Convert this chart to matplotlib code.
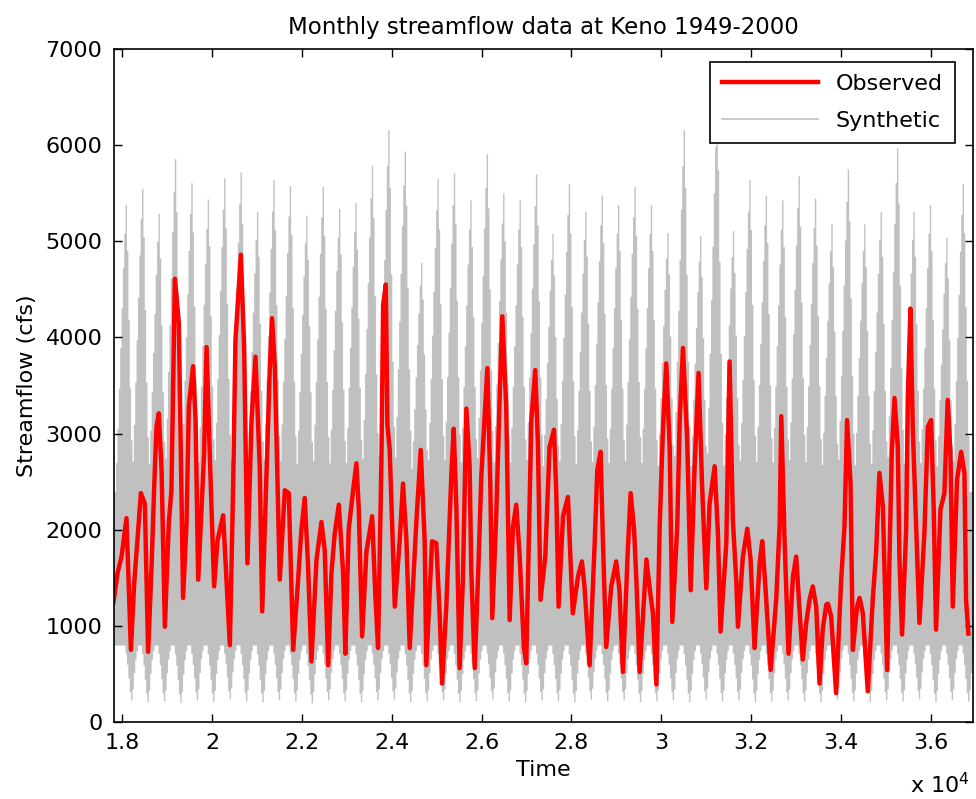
import numpy as np
import matplotlib
matplotlib.use("Agg")
import matplotlib.pyplot as plt
from matplotlib.ticker import FuncFormatter, MultipleLocator

plt.rcParams['font.family'] = ['DejaVu Sans']

# observed monthly flow, turning points (decimal year, cfs)
obs_year = [
    1948.75, 1949.00, 1949.24, 1949.54, 1949.75, 1949.81, 1950.01, 1950.42, 1950.66, 1950.86,
    1951.07, 1951.23, 1951.37, 1951.51, 1951.68, 1951.88, 1952.12, 1952.28, 1952.49, 1952.73,
    1952.99, 1953.20, 1953.34, 1953.60, 1953.75, 1953.91, 1954.27, 1954.42, 1954.62, 1954.88,
    1955.09, 1955.43, 1955.84, 1956.04, 1956.18, 1956.51, 1956.71, 1956.91, 1957.16, 1957.40,
    1957.66, 1957.81, 1958.27, 1958.41, 1958.58, 1958.88, 1959.19, 1959.43, 1959.70, 1960.00,
    1960.20, 1960.40, 1960.60, 1960.81, 1961.12, 1961.42, 1961.62, 1961.83, 1962.03, 1962.23,
    1962.48, 1962.74, 1962.88, 1963.08, 1963.35, 1963.55, 1963.69, 1963.90, 1964.16, 1964.51,
    1964.71, 1964.87, 1965.07, 1965.18, 1965.34, 1965.44, 1965.58, 1965.89, 1966.19, 1966.39,
    1966.60, 1966.80, 1967.21, 1967.47, 1967.71, 1967.81, 1968.16, 1968.42, 1968.63, 1968.77,
    1969.03, 1969.34, 1969.48, 1969.64, 1969.84, 1970.04, 1970.25, 1970.45, 1970.55, 1970.76,
    1971.00, 1971.16, 1971.53, 1971.71, 1971.83, 1972.07, 1972.28, 1972.44, 1972.68, 1972.83,
    1972.89, 1973.09, 1973.29, 1973.50, 1973.76, 1973.90, 1974.04, 1974.21, 1974.45, 1974.61,
    1974.77, 1975.06, 1975.32, 1975.59, 1975.73, 1975.87, 1976.14, 1976.44, 1976.64, 1976.74,
    1977.05, 1977.29, 1977.45, 1977.76, 1978.06, 1978.23, 1978.43, 1978.57, 1978.77, 1979.08,
    1979.38, 1979.58, 1979.79, 1980.09, 1980.26, 1980.47, 1980.61, 1980.81, 1981.01, 1981.22,
    1981.42, 1981.62, 1981.83, 1982.03, 1982.23, 1982.43, 1982.64, 1982.80, 1983.10, 1983.25,
    1983.45, 1983.71, 1983.92, 1984.16, 1984.40, 1984.61, 1984.87, 1985.07, 1985.38, 1985.58,
    1985.74, 1986.09, 1986.29, 1986.49, 1986.70, 1986.80, 1987.10, 1987.37, 1987.57, 1987.81,
    1988.12, 1988.28, 1988.46, 1988.79, 1989.13, 1989.34, 1989.44, 1989.64, 1989.88, 1990.15,
    1990.35, 1990.55, 1990.75, 1990.96, 1991.16, 1991.36, 1991.57, 1991.77, 1991.97, 1992.18,
    1992.28, 1992.48, 1992.78, 1993.09, 1993.29, 1993.45, 1993.66, 1993.80, 1994.06, 1994.21,
    1994.41, 1994.71, 1995.02, 1995.22, 1995.42, 1995.63, 1995.89, 1996.17, 1996.34, 1996.54,
    1996.64, 1996.80, 1997.05, 1997.15, 1997.31, 1997.45, 1997.66, 1997.86, 1998.16, 1998.37,
    1998.57, 1998.73, 1998.87, 1999.14, 1999.38, 1999.58, 1999.75, 1999.89, 2000.15, 2000.40,
    2000.60, 2000.70, 2000.84,
]
obs_flow = [
    1250, 1550, 1720, 2120, 1080, 750, 1440, 2380, 2270, 730,
    1620, 2450, 3070, 3210, 2620, 990, 2070, 2410, 4610, 4150,
    1290, 2070, 3280, 3700, 3140, 1480, 2790, 3900, 2760, 1410,
    1890, 2150, 800, 2450, 3970, 4860, 3900, 1650, 3140, 3800,
    2660, 1150, 3660, 4200, 3700, 1480, 2410, 2380, 750, 1480,
    2000, 2330, 1650, 630, 1690, 2080, 1790, 590, 1550, 1960,
    2260, 1550, 710, 2000, 2410, 2690, 2240, 890, 1770, 2140,
    1300, 770, 2660, 4340, 4550, 3090, 2830, 1200, 1890, 2480,
    1890, 770, 2100, 2830, 1890, 590, 1880, 1860, 1100, 400,
    1200, 2590, 3050, 2240, 560, 1480, 3260, 2660, 1580, 560,
    1690, 2550, 3680, 2480, 1080, 2140, 3380, 4220, 3280, 1690,
    1060, 2030, 2260, 1720, 770, 610, 1750, 3140, 3660, 2900,
    1270, 1720, 2860, 3040, 2380, 1200, 2140, 2340, 1510, 1130,
    1510, 1670, 1410, 590, 1820, 2620, 2810, 1890, 780, 1410,
    1670, 1370, 520, 1790, 2380, 2000, 1480, 520, 1100, 1690,
    1390, 1130, 390, 2030, 3050, 3730, 2850, 1040, 2030, 3140,
    3890, 2920, 1370, 2660, 3630, 2480, 1390, 2270, 2660, 1960,
    940, 1860, 3750, 2100, 1460, 990, 1720, 2010, 1690, 770,
    1650, 1880, 1440, 540, 1270, 2050, 3180, 1890, 710, 1510,
    1720, 1170, 650, 1030, 1270, 1410, 1200, 400, 970, 1220,
    1230, 1100, 300, 1480, 2030, 3140, 2480, 750, 1200, 1290,
    1130, 320, 1290, 1770, 2590, 2240, 540, 2790, 3370, 2860,
    1690, 910, 2000, 3380, 4300, 3070, 2030, 1030, 1960, 3070,
    3140, 2210, 960, 2210, 2380, 3350, 2790, 1200, 2520, 2810,
    2590, 1270, 920,
]

# synthetic traces: yearly spike tops and low-flow tips (cfs)
syn_years = list(range(1949, 2001))
syn_peak = [
    5380, 5550, 5290, 5860, 5610, 5440, 5660, 5720, 5310, 5640,
    5580, 5270, 5570, 5340, 5400, 5790, 6160, 5940, 4780, 5650,
    5710, 5430, 5910, 5500, 5430, 5700, 5080, 5600, 5310, 5480,
    5380, 5570, 5380, 5090, 6160, 5060, 6380, 5110, 5640, 5480,
    5430, 5680, 5450, 5180, 5750, 5180, 5310, 5970, 5310, 5380,
    5040, 5600,
]
syn_low = [
    230, 210, 220, 200, 230, 210, 240, 220, 210, 230,
    220, 200, 230, 220, 210, 230, 240, 210, 220, 230,
    210, 220, 240, 220, 210, 230, 220, 210, 240, 220,
    230, 210, 220, 230, 210, 240, 220, 230, 210, 220,
    230, 220, 210, 240, 220, 210, 230, 220, 240, 210,
    230, 220,
]
band_low = 800      # bottom of the solid synthetic band
band_high = 2400    # top of the solid synthetic band
# shape of a yearly spike / dip, monthly steps around the extreme (fraction of excursion)
spike_shape = [0.1, 0.22, 0.36, 0.5, 0.64, 0.78, 0.9, 1.0, 0.84, 0.6, 0.36, 0.18]
dip_shape = [0.15, 0.35, 0.6, 0.85, 1.0, 0.8, 0.5, 0.25, 0.1]


def to_serial(y):
    # decimal year -> spreadsheet day number
    return 17899 + (np.asarray(y) - 1949.0) * 365.25


months = np.arange(1948.75, 2001.2, 1 / 12)
upper = np.full(len(months), float(band_high))
lower = np.full(len(months), float(band_low))
for yr, pk, lo in zip(syn_years, syn_peak, syn_low):
    k = int(np.argmin(np.abs(months - (yr + 0.5))))
    for j, f in enumerate(spike_shape):
        i = k - 7 + j
        if 0 <= i < len(months):
            upper[i] = max(upper[i], band_high + f * (pk - band_high))
    k = int(np.argmin(np.abs(months - (yr + 0.8))))
    for j, f in enumerate(dip_shape):
        i = k - 4 + j
        if 0 <= i < len(months):
            lower[i] = min(lower[i], band_low - f * (band_low - lo))

fig = plt.figure(figsize=(9.76, 7.99), dpi=100)
ax = fig.add_axes([0.1163, 0.0964, 0.8811, 0.8423])

ax.fill_between(to_serial(months), lower, upper, step='mid', color='#c0c0c0', lw=0)
ax.plot(to_serial(obs_year), obs_flow, color='#ff0000', lw=3.2, label='Observed')
ax.plot([], [], color='#c0c0c0', lw=1.2, label='Synthetic')

ax.set_xlim(to_serial(1948.75), to_serial(2001.15))
ax.set_ylim(0, 7000)
ax.xaxis.set_major_locator(MultipleLocator(2000))
ax.yaxis.set_major_locator(MultipleLocator(1000))
ax.xaxis.set_major_formatter(FuncFormatter(lambda v, p: f"{v / 1e4:g}"))
ax.tick_params(direction='in', top=True, right=True, labelsize=16, length=6, width=1, pad=8)
for s in ax.spines.values():
    s.set_linewidth(1.2)

ax.set_title('Monthly streamflow data at Keno 1949-2000', fontsize=16.5, pad=11)
ax.set_xlabel('Time', fontsize=16, labelpad=5)
ax.set_ylabel('Streamflow (cfs)', fontsize=16, labelpad=6)
fig.text(0.994, 0.018, 'x 10$^4$', ha='right', va='center', fontsize=16)

leg = ax.legend(loc='upper right', bbox_to_anchor=(0.9785, 0.981), borderaxespad=0, fontsize=16,
                fancybox=False, framealpha=1, edgecolor='black', handlelength=4.3,
                borderpad=0.55, labelspacing=0.75)
leg.get_frame().set_linewidth(1.2)

fig.savefig('out.png', dpi=100)
